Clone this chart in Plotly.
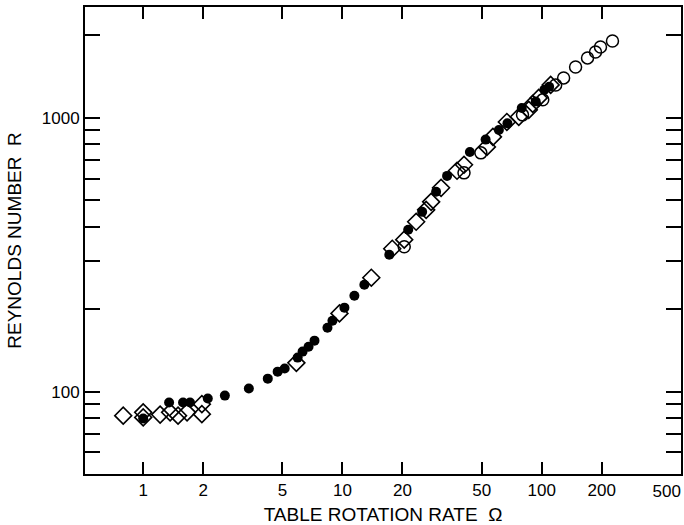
import plotly.graph_objects as go

# Open diamonds
diamond_x = [0.794, 1.0, 1.0, 1.216, 1.365, 1.496, 1.66, 1.97, 1.97, 5.87, 9.66, 13.96,
             17.78, 20.42, 23.44, 26.3, 27.86, 31.26, 37.58, 40.74, 53.09, 56.89, 66.83,
             76.74, 86.1, 90.16, 96.6, 110.9]
diamond_y = [81.7, 84.0, 80.5, 82.4, 84.0, 81.7, 84.0, 90.0, 82.7, 127.4, 193.0, 260.6,
             332.6, 358.9, 417.2, 461.4, 493.4, 555.3, 640.8, 674.0, 783.4, 852.6, 966.1,
             1008.0, 1069.8, 1124.6, 1183.0, 1319.3]

# Filled circles
filled_x = [1.0, 1.349, 1.585, 1.718, 2.11, 2.57, 3.39, 4.22, 4.73, 5.13, 5.96, 6.31, 6.76,
            7.24, 8.41, 8.91, 10.23, 11.48, 12.88, 17.18, 21.38, 25.12, 29.51, 33.5, 43.6,
            52.3, 60.95, 67.3, 79.43, 93.33, 103.1, 109.0]
filled_y = [79.7, 91.2, 91.2, 91.2, 94.3, 96.7, 102.6, 111.5, 118.3, 121.4, 133.1, 140.0, 145.9,
            153.5, 171.2, 181.6, 202.6, 224.0, 245.8, 316.2, 390.0, 453.6, 537.1, 613.8, 750.0,
            833.0, 903.6, 955.0, 1086.4, 1146.8, 1266.0, 1300.0]

# Open circles
open_x = [20.42, 40.74, 49.5, 80.1, 101.2, 117.5, 128.8, 147.9, 169.8, 186.2, 197.2, 226.5]
open_y = [338.1, 629.6, 745.0, 1025.6, 1163.6, 1319.3, 1399.6, 1535.0, 1656.0, 1741.0, 1816.0, 1910.0]

x_ticks = [1, 2, 5, 10, 20, 50, 100, 200, 500]
x_labels = ["1", "2", "5", "10", "20", "50", "100", "200", "500"]
y_ticks = [100, 1000]
y_labels = ["100", "1000"]
y_minor = [60, 70, 80, 90, 200, 300, 400, 500, 600, 700, 800, 900, 2000]

x_range = [-0.292, 2.699]

# the last x label sits flush against the right frame (drawn on an overlay axis
# that shares the exact same log range)
x_text_main = x_labels[:-1] + [""]

fig = go.Figure()
fig.add_trace(go.Scatter(x=diamond_x, y=diamond_y, mode="markers",
                         marker=dict(symbol="diamond-open", size=13, color="black",
                                     line=dict(width=1.6, color="black"))))
fig.add_trace(go.Scatter(x=open_x, y=open_y, mode="markers", xaxis="x2",
                         marker=dict(symbol="circle-open", size=12, color="black",
                                     line=dict(width=1.5, color="black"))))
fig.add_trace(go.Scatter(x=filled_x, y=filled_y, mode="markers",
                         marker=dict(symbol="circle", size=10, color="black",
                                     line=dict(width=0))))

font_family = "Liberation Sans, Arial, sans-serif"
fig.update_layout(
    width=684, height=525,
    margin=dict(l=85, r=3, t=7, b=51),
    paper_bgcolor="white", plot_bgcolor="white",
    showlegend=False,
    font=dict(family=font_family, color="black", size=17),
    xaxis=dict(
        type="log", range=x_range, automargin=False,
        tickvals=x_ticks, ticktext=x_text_main,
        ticks="inside", ticklen=12, tickwidth=1.5, tickcolor="black",
        showline=True, linecolor="black", linewidth=2, mirror="allticks",
        showgrid=False, zeroline=False,
        tickfont=dict(size=17),
        title=dict(text="TABLE ROTATION RATE  Ω", font=dict(size=19)),
    ),
    xaxis2=dict(
        type="log", range=x_range, automargin=False, overlaying="x", anchor="y",
        side="bottom", tickvals=[x_ticks[-1]], ticktext=[x_labels[-1]],
        ticks="", showline=False, showgrid=False, zeroline=False,
        ticklabelposition="outside left", ticklabelstandoff=5, tickfont=dict(size=17),
    ),
    yaxis=dict(
        type="log", range=[1.699, 3.405], automargin=False,
        tickvals=y_ticks, ticktext=y_labels,
        ticks="inside", ticklen=15, tickwidth=1.5, tickcolor="black",
        showline=True, linecolor="black", linewidth=2, mirror="allticks",
        showgrid=False, zeroline=False,
        tickfont=dict(size=17),
        minor=dict(tickvals=y_minor, ticks="inside", ticklen=11, tickwidth=1.5,
                   tickcolor="black", showgrid=False),
        title=dict(text="REYNOLDS NUMBER  R", font=dict(size=19)),
    ),
)

fig.write_html("out.html")
